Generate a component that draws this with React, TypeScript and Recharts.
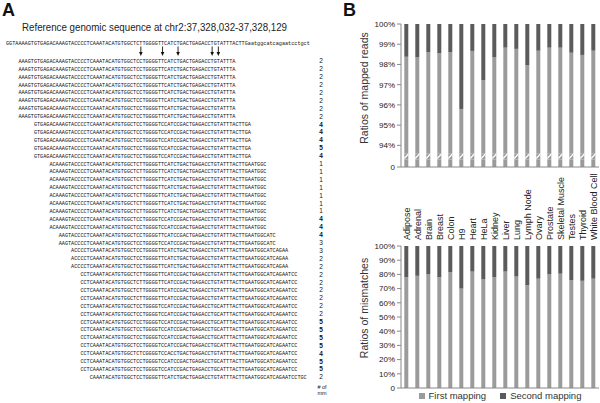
import { BarChart, Bar, XAxis, YAxis, Legend, Label } from 'recharts';

// ---- panel A: reads aligned to the reference ----
const refSeq = 'GGTAAAAGTGTGAGACAAAGTACCCCTCAAATACATGTGGCTCTTGGGGTTCATCTGACTGAGACCTGTATTTACTTGaatggcatcagaatcctgct';
const arrowPos = [43, 50, 55, 66, 68];

const readA = 'AAAGTGTGAGACAAAGTACCCCTCAAATACATGTGGCTCCTGGGGTTCATCTGACTGAGACCTGTATTTA';
const readB = 'GTGAGACAAAGTACCCCTCAAATACATGTGGCTCCTGGGGTCCATCCGACTGAGACCTGTATTTACTTGA';
const readB2 = 'GTGAGACAAAGGACCCCTCAAATACATGTGGCTCCTGGGGTCCATCCGACTGAGACCTGTATTTACTTGA';
const readC1 = 'ACAAAGTACCCCTCAAATACATGTGGCTCTTGGGGTTCATCTGACTGAGACCTGTATTTACTTGAATGGC';
const readC2 = 'ACAAAGTACCCCTCAAATACATGTGGCTCCTGGGGTCCATCCGACTGAGACCTGTATTTACTTGAATGGC';
const readD1 = 'AAGTACCCCTCAAATACATGTGGCTCCTGGGGTTCATCCGACTGAGACCTGTATTTACTTGAATGGCATC';
const readD2 = 'AAGTACCCCTCAAATACATGTGGCTCCTGGGGTCCATCCGACTGAGACCTGTATTTACTTGAATGGCATC';
const readE = 'ACCCCTCAAATACATGTGGCTCCTGGGGTTCATCTGACTGAGACCTGTATTTACTTGAATGGCATCAGAA';
const readF1 = 'CCTCAAATACATGTGGCTCTTGGGGTTCATCCGACTGAGACCTGTATTTACTTGAATGGCATCAGAATCC';
const readF2 = 'CCTCAAATACATGTGGCTCCTGGGGTCCATCCGACTGAGACCTGCATTTACTTGAATGGCATCAGAATCC';
const readF3 = 'CCTCAAATACATGTGGCTCTCGGGGTCCACCTGACTGAGACCTGTATTTACTTGAATGGCATCAGAATCC';
const readG = 'CAAATACATGTGGCTCCTGGGGTTCATCTGACTGAGACCTGTATTTACTTGAATGGCATCAGAATCCTGC';

const readSeqs = [
  readA, readA, readA, readA, readA, readA, readA, readA,
  readB, readB, readB2, readB, readB,
  readC1, readC1, readC1, readC1, readC1, readC1, readC1, readC2, readC2,
  readD1, readD2,
  readE, readE, readE,
  readF1, readF1, readF1, readF1, readF2, readF2, readF2, readF2, readF2, readF2, readF3, readF2, readF2,
  readG,
];
const readStarts = [
  4, 4, 4, 4, 4, 4, 4, 4,
  9, 9, 9, 9, 9,
  14, 14, 14, 14, 14, 14, 14, 14, 14,
  17, 17,
  21, 21, 21,
  24, 24, 24, 24, 24, 24, 24, 24, 24, 24, 24, 24, 24,
  27,
];
const mismatchCounts = [
  2, 2, 2, 2, 2, 2, 2, 2,
  4, 4, 4, 5, 4,
  1, 1, 1, 1, 1, 1, 1, 4, 4,
  4, 3,
  3, 2, 2,
  2, 2, 2, 2, 2, 2, 5, 5, 5, 5, 4, 5, 5,
  2,
];

// ---- panel B ----
const tissues = ['Adipose', 'Adrenal', 'Brain', 'Breast', 'Colon', 'H9', 'Heart', 'HeLa', 'Kidney', 'Liver', 'Lung', 'Lymph Node', 'Ovary', 'Prostate', 'Skeletal Muscle', 'Testes', 'Thyroid', 'White Blood Cell'];
// share of reads mapped in the first pass (%), remainder is the second pass
const mappedFirst = [98.38, 98.35, 98.6, 98.55, 98.6, 95.8, 98.67, 97.22, 98.35, 98.83, 98.77, 97.97, 98.68, 98.83, 98.83, 98.58, 98.47, 98.68];
const mismatchFirst = [78, 79, 80, 78, 81.5, 70, 82, 76.5, 78, 82, 78.5, 72.5, 77, 80, 80.5, 76, 75.5, 77];
const mappedTicks = [92.93, 94, 95, 96, 97, 98, 99, 100];
const mismatchTicks = [0, 10, 20, 30, 40, 50, 60, 70, 80, 90, 100];
const breakLow = 93.3;
const breakHigh = 93.6;

const LIGHT = '#9b9b9b';
const DARK = '#5b5b5b';
const SANS = '"Liberation Sans", Arial, sans-serif';
const CW = 3.1; // width of one base in panel A
const ROW0 = 61;
const ROWH = 7.9;

const mappedData = tissues.map((name, i) => ({
  name,
  base: breakLow,
  gap: breakHigh - breakLow,
  first: mappedFirst[i] - breakHigh,
  second: 100 - mappedFirst[i],
}));

const mismatchData = tissues.map((name, i) => ({
  name,
  first: mismatchFirst[i],
  second: 100 - mismatchFirst[i],
}));

const BreakShape = (props: any) => {
  const { x, y, width, height, fill } = props;
  const pts = `${x},${y + height} ${x + width},${y + 1.5} ${x + width},${y - 0.5} ${x},${y + height - 2}`;
  return (
    <g>
      <rect x={x} y={y} width={width} height={height} fill={fill} />
      <polygon points={pts} fill="#fff" />
    </g>
  );
};

const TissueTick = (props: any) => {
  const { x, y, payload } = props;
  const tx = x + 3.3;
  const ty = y + 65;
  return (
    <text x={tx} y={ty} transform={`rotate(-90 ${tx} ${ty})`} textAnchor="start" fontSize={9} fill="#222" fontFamily={SANS}>
      {payload.value}
    </text>
  );
};

const axisTitle = (text: string, dy: number) => (props: any) => {
  const vb = props.viewBox;
  const x = vb.x + 68;
  const y = vb.y + vb.height / 2 + dy;
  return (
    <text x={x} y={y} transform={`rotate(-90 ${x} ${y})`} textAnchor="middle" fontSize={10.5} fill="#333" fontFamily={SANS}>
      {text}
    </text>
  );
};

function PanelA() {
  return (
    <svg width={600} height={403} style={{ position: 'absolute', left: 0, top: 0 }}>
      <text x={2} y={16} fontSize={18} fontWeight="bold" fontFamily={SANS} fill="#111">A</text>
      <text x={343} y={16} fontSize={18} fontWeight="bold" fontFamily={SANS} fill="#111">B</text>
      <text x={22} y={31} fontSize={10.7} fontFamily={SANS} fill="#222" textLength={265} lengthAdjust="spacingAndGlyphs">
        Reference genomic sequence at chr2:37,328,032-37,328,129
      </text>
      <text x={6} y={44.5} fontSize={5.17} fontFamily='"Liberation Mono", monospace' fill="#111"
        textLength={refSeq.length * CW} lengthAdjust="spacingAndGlyphs">{refSeq}</text>
      {arrowPos.map((p) => {
        const ax = 6 + (p + 0.5) * CW;
        return (
          <g key={p}>
            <line x1={ax} y1={46.5} x2={ax} y2={53} stroke="#111" strokeWidth={0.9} />
            <polygon points={`${ax - 1.8},52 ${ax + 1.8},52 ${ax},56`} fill="#111" />
          </g>
        );
      })}
      {readSeqs.map((s, i) => (
        <text key={i} x={6 + readStarts[i] * CW} y={ROW0 + i * ROWH + 1.8} fontSize={5.17}
          fontFamily='"Liberation Mono", monospace' fill="#111" textLength={s.length * CW} lengthAdjust="spacingAndGlyphs">{s}</text>
      ))}
      {mismatchCounts.map((m, i) => (
        <text key={i} x={321} y={ROW0 + i * ROWH + 2.3} fontSize={6.5} textAnchor="middle" fontFamily={SANS}
          fontWeight={m >= 4 ? 'bold' : 'normal'} fill="#111">{m}</text>
      ))}
      <text x={322} y={389} fontSize={5.5} textAnchor="middle" fontFamily={SANS} fill="#222"># of</text>
      <text x={322} y={394.5} fontSize={5.5} textAnchor="middle" fontFamily={SANS} fill="#222">mm</text>
    </svg>
  );
}

export default function App() {
  return (
    <div style={{ position: 'absolute', left: 0, top: 0, width: 600, height: 403, background: '#fff', overflow: 'hidden' }}>
      <PanelA />
      <div style={{ position: 'absolute', left: 300, top: 0 }}>
        <BarChart width={300} height={250} data={mappedData} margin={{ top: 24, right: 1, left: 0, bottom: 0 }}
          barCategoryGap="30%" style={{ fontFamily: SANS }}>
          <XAxis dataKey="name" interval={0} tickLine={false} axisLine={{ stroke: '#888' }} height={83} tick={<TissueTick />} />
          <YAxis width={101} domain={[92.93, 100]} allowDataOverflow ticks={mappedTicks} tickSize={4}
            axisLine={{ stroke: '#888' }} tickLine={{ stroke: '#888' }}
            tick={{ fontSize: 8, fill: '#222' }} tickFormatter={(v: number) => (v < 93 ? '0' : `${v}%`)}>
            <Label content={axisTitle('Ratios of mapped reads', -7.5)} />
          </YAxis>
          <Bar dataKey="base" stackId="a" fill={LIGHT} isAnimationActive={false} />
          <Bar dataKey="gap" stackId="a" fill={LIGHT} shape={<BreakShape />} isAnimationActive={false} />
          <Bar dataKey="first" stackId="a" fill={LIGHT} isAnimationActive={false} />
          <Bar dataKey="second" stackId="a" fill={DARK} isAnimationActive={false} />
        </BarChart>
      </div>
      <div style={{ position: 'absolute', left: 300, top: 230 }}>
        <BarChart width={300} height={173} data={mismatchData} margin={{ top: 16, right: 1, left: 0, bottom: 0 }}
          barCategoryGap="30%" style={{ fontFamily: SANS }}>
          <XAxis dataKey="name" tick={false} tickLine={false} axisLine={{ stroke: '#888' }} height={15} />
          <YAxis width={101} domain={[0, 100]} ticks={mismatchTicks} tickSize={4}
            axisLine={{ stroke: '#888' }} tickLine={{ stroke: '#888' }}
            tick={{ fontSize: 8, fill: '#222' }} tickFormatter={(v: number) => (v === 0 ? '0' : `${v}%`)}>
            <Label content={axisTitle('Ratios of mismatches', -9)} />
          </YAxis>
          <Legend layout="horizontal" verticalAlign="middle" align="center" iconType="square" iconSize={6}
            wrapperStyle={{ left: 114, top: 161, width: 186, fontSize: 9.5, lineHeight: '10px', textAlign: 'left', whiteSpace: 'nowrap' }}
            formatter={(value: string) => <span style={{ color: '#333', marginRight: 4 }}>{value}</span>} />
          <Bar dataKey="first" name="First mapping" stackId="a" fill={LIGHT} isAnimationActive={false} />
          <Bar dataKey="second" name="Second mapping" stackId="a" fill={DARK} isAnimationActive={false} />
        </BarChart>
      </div>
    </div>
  );
}
